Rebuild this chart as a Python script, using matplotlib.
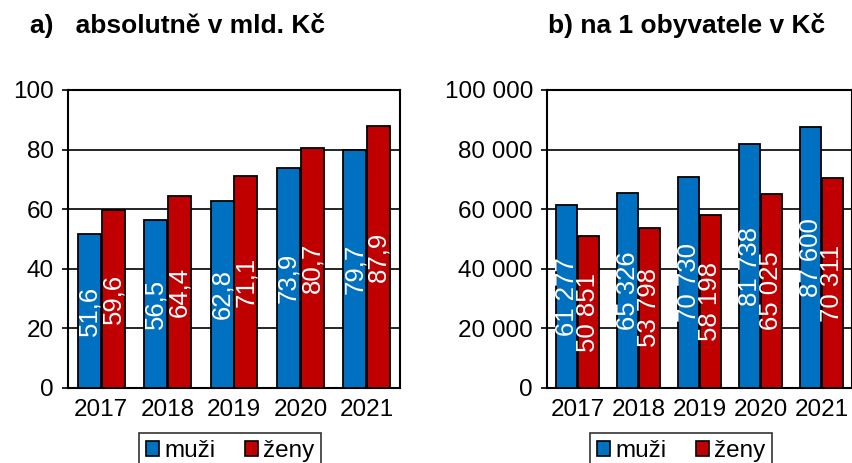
import matplotlib
matplotlib.use('Agg')
import matplotlib.pyplot as plt
from matplotlib.patches import Patch
from matplotlib.ticker import FuncFormatter

plt.rcParams['font.family'] = ['Liberation Sans', 'DejaVu Sans']

years = ['2017', '2018', '2019', '2020', '2021']
muzi_abs = [51.6, 56.5, 62.8, 73.9, 79.7]
zeny_abs = [59.6, 64.4, 71.1, 80.7, 87.9]
muzi_obyv = [61277, 65326, 70730, 81738, 87600]
zeny_obyv = [50851, 53798, 58198, 65025, 70311]

blue = '#0070C0'
red = '#C00000'
W, H = 853, 463


def fmt_dec(v):
    return f'{v:.1f}'.replace('.', ',')


def fmt_thousands(v):
    return f'{int(round(v)):,}'.replace(',', ' ')


def draw_panel(ax, m, z, ymax, step, lab_fmt):
    x = list(range(len(years)))
    w = 0.345
    off = 0.18
    bm = ax.bar([i - off for i in x], m, w, color=blue, edgecolor='black', linewidth=1.3, zorder=3)
    bz = ax.bar([i + off for i in x], z, w, color=red, edgecolor='black', linewidth=1.3, zorder=3)
    for bars, vals in ((bm, m), (bz, z)):
        for b, v in zip(bars, vals):
            ax.text(b.get_x() + b.get_width() / 2, v / 2, lab_fmt(v), rotation=90,
                    ha='center', va='center', color='white', fontsize=18.5, zorder=4)
    ax.set_xlim(-0.5, len(years) - 0.5)
    ax.set_ylim(0, ymax)
    ax.set_yticks(range(0, ymax + 1, step))
    ax.set_xticks(x)
    ax.set_xticklabels(years)
    ax.yaxis.grid(True, color='black', linewidth=1.2, zorder=0)
    ax.set_axisbelow(True)
    for s in ax.spines.values():
        s.set_linewidth(1.5)
        s.set_color('black')
    ax.tick_params(axis='x', length=0, labelsize=17.5, pad=8)
    ax.tick_params(axis='y', length=4, width=1.2, labelsize=17.5, pad=6)


fig = plt.figure(figsize=(W / 100, H / 100), dpi=100)
ax1 = fig.add_axes([68 / W, 1 - 388 / H, 332 / W, 298 / H])
ax2 = fig.add_axes([547 / W, 1 - 388 / H, 305 / W, 298 / H])

draw_panel(ax1, muzi_abs, zeny_abs, 100, 20, fmt_dec)
draw_panel(ax2, muzi_obyv, zeny_obyv, 100000, 20000, fmt_thousands)
ax2.yaxis.set_major_formatter(FuncFormatter(lambda v, p: fmt_thousands(v)))

fig.text(30 / W, 1 - 25 / H, 'a)   absolutně v mld. Kč', fontsize=19, fontweight='bold',
         ha='left', va='center')
fig.text(548 / W, 1 - 25 / H, 'b) na 1 obyvatele v Kč', fontsize=19, fontweight='bold',
         ha='left', va='center')

handles = [Patch(facecolor=blue, edgecolor='black', linewidth=1.2),
           Patch(facecolor=red, edgecolor='black', linewidth=1.2)]
for cx in (230, 681):
    leg = fig.legend(handles, ['muži', 'ženy'], loc='upper center',
                     bbox_to_anchor=(cx / W, 1 - 433 / H), ncol=2, fontsize=17.5,
                     frameon=True, fancybox=False, edgecolor='black',
                     handlelength=0.55, handleheight=0.55, handletextpad=0.2,
                     columnspacing=1.2, borderpad=0.3, borderaxespad=0)
    leg.get_frame().set_linewidth(1.2)

fig.savefig('out.png', dpi=100)
